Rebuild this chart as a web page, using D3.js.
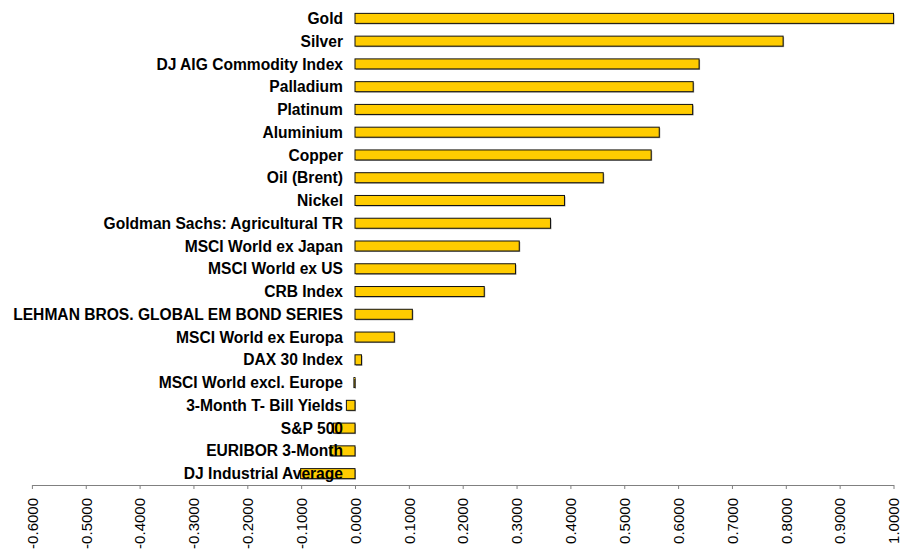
<!DOCTYPE html>
<html>
<head>
<meta charset="utf-8">
<script src="https://cdn.jsdelivr.net/npm/d3@7"></script>
<style>
  html, body { margin: 0; padding: 0; background: #fff; }
  svg { display: block; }
</style>
</head>
<body>
<svg id="chart" width="907" height="549"></svg>
<script>
const categories = [
  "Gold", "Silver", "DJ AIG Commodity Index", "Palladium", "Platinum",
  "Aluminium", "Copper", "Oil (Brent)", "Nickel", "Goldman Sachs: Agricultural TR",
  "MSCI World ex Japan", "MSCI World ex US", "CRB Index",
  "LEHMAN BROS. GLOBAL EM BOND SERIES", "MSCI World ex Europa", "DAX 30 Index",
  "MSCI World excl. Europe", "3-Month T- Bill Yields", "S&P 500",
  "EURIBOR 3-Month", "DJ Industrial Average"
];
const values = [
  1.0, 0.795, 0.639, 0.628, 0.627,
  0.565, 0.550, 0.461, 0.389, 0.363,
  0.305, 0.298, 0.240,
  0.1065, 0.073, 0.012,
  -0.002, -0.016, -0.040,
  -0.046, -0.101
];
const tickValues = [-0.6, -0.5, -0.4, -0.3, -0.2, -0.1, 0, 0.1, 0.2, 0.3, 0.4, 0.5, 0.6, 0.7, 0.8, 0.9, 1.0];

const data = categories.map((c, i) => ({ name: c, value: values[i] }));
const svg = d3.select("#chart");

const x = d3.scaleLinear().domain([-0.6, 1.0]).range([31.9, 893.5]);
const y = d3.scaleBand().domain(categories).range([7, 485]).paddingInner(0.56).paddingOuter(0.28);

// shadows
svg.append("g").selectAll("rect").data(data).join("rect")
  .attr("x", d => Math.min(x(0), x(d.value)) + 1)
  .attr("y", d => y(d.name) + 1)
  .attr("width", d => Math.max(1, Math.abs(x(d.value) - x(0))))
  .attr("height", y.bandwidth())
  .attr("fill", "#9a9a9a");

// bars
svg.append("g").selectAll("rect").data(data).join("rect")
  .attr("x", d => Math.min(x(0), x(d.value)))
  .attr("y", d => y(d.name))
  .attr("width", d => Math.max(0.5, Math.abs(x(d.value) - x(0))))
  .attr("height", y.bandwidth())
  .attr("fill", "#FFCC00")
  .attr("stroke", "#111")
  .attr("stroke-width", 1);

// category labels
svg.append("g").selectAll("text").data(data).join("text")
  .attr("x", 343)
  .attr("y", d => y(d.name) + y.bandwidth() / 2)
  .attr("dy", "0.36em")
  .attr("text-anchor", "end")
  .attr("font-family", "Liberation Sans, Arial, sans-serif")
  .attr("font-weight", "bold")
  .attr("font-size", "15.6px")
  .attr("fill", "#000")
  .text(d => d.name);

// x axis
const axis = d3.axisBottom(x)
  .tickValues(tickValues)
  .tickSize(4)
  .tickSizeOuter(0)
  .tickFormat(v => (Math.abs(v) < 1e-9 ? 0 : v).toFixed(4));

const gAxis = svg.append("g").attr("transform", "translate(0,485)").call(axis);
gAxis.select(".domain").attr("stroke", "#808080").attr("stroke-width", 1.2);
gAxis.selectAll(".tick line").attr("stroke", "#808080").attr("stroke-width", 1);
gAxis.selectAll(".tick text")
  .attr("font-family", "Liberation Sans, Arial, sans-serif")
  .attr("font-size", "15px")
  .attr("fill", "#000")
  .attr("transform", "rotate(-90)")
  .attr("text-anchor", "end")
  .attr("x", -13)
  .attr("y", 0)
  .attr("dy", "0.35em");
</script>
</body>
</html>
